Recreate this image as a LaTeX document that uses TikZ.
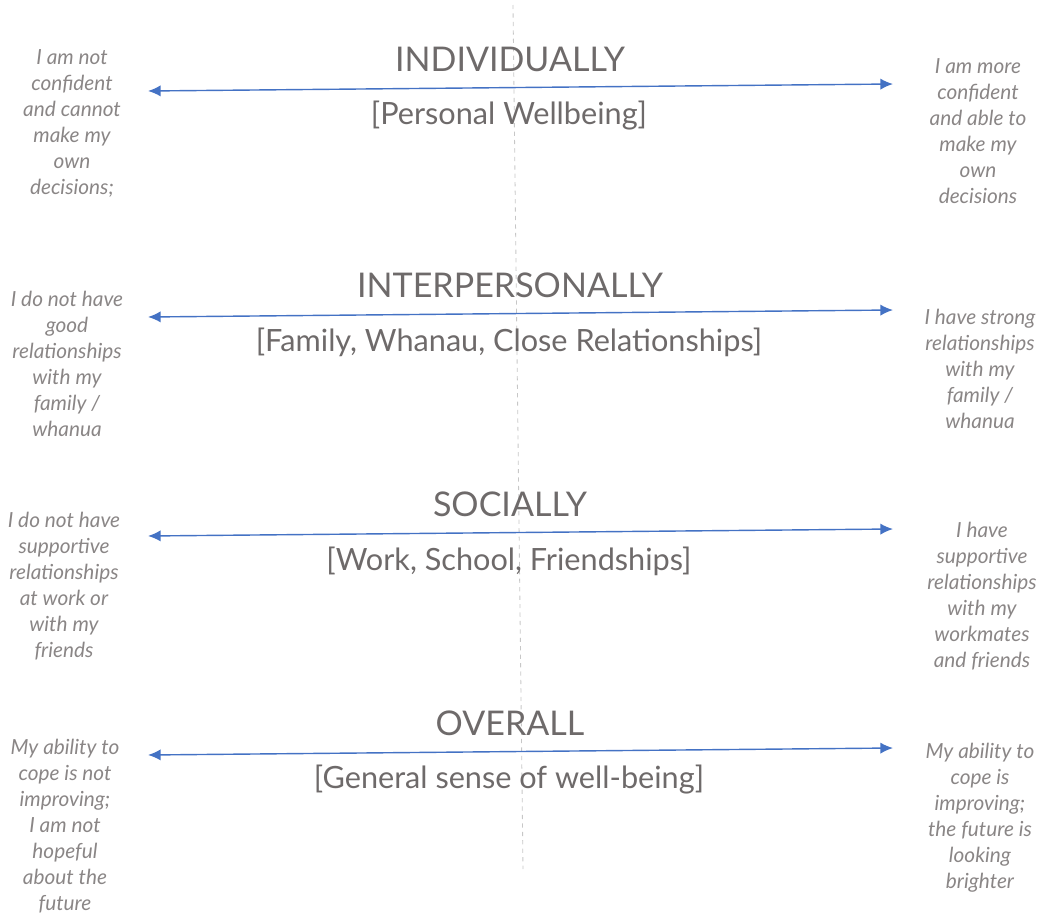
\documentclass[tikz,border=0pt]{standalone}
\usepackage{fontspec}
\setmainfont{Lato}
\usepackage{tikz}
\usetikzlibrary{arrows.meta,positioning}
\definecolor{scaleblue}{HTML}{4472C4}
\definecolor{headgrey}{HTML}{6E6A6A}
\definecolor{sidegrey}{HTML}{8A8686}
\tikzset{
  scale-head/.style={text=headgrey, font=\fontsize{24.2}{28}\selectfont, inner sep=0pt},
  scale-sub/.style={text=headgrey, font=\fontsize{21.8}{26}\selectfont, inner sep=0pt},
  scale-end/.style={text=sidegrey, font=\fontsize{14.8}{18.5}\selectfont\itshape,
    align=center, inner sep=0pt, anchor=north},
  scale-arrow/.style={{Latex[length=9pt,width=8pt]}-{Latex[length=9pt,width=8pt]},
    draw=scaleblue, line width=1pt},
  mid-line/.style={draw=black!22, dashed, line width=0.6pt}
}

\begin{document}
\begin{tikzpicture}[x=0.025cm, y=-0.025cm]
  \useasboundingbox (0,0) rectangle (1041,914);

  % centre line
  \coordinate (top) at (513,5);
  \coordinate (bottom) at (523,869);
  \draw[mid-line] (top) -- (bottom);

  % the four scales: heading, sub heading, arrow
  \foreach \name/\y/\head/\sub in {ind/0/INDIVIDUALLY/{[Personal Wellbeing]},
      inter/226/INTERPERSONALLY/{[Family, Whanau, Close Relationships]},
      soc/445/SOCIALLY/{[Work, School, Friendships]},
      all/664/OVERALL/{[General sense of well-being]}} {
    \node[scale-head] (\name-head) at (510,59+\y) {\head};
    \node[scale-sub] (\name-sub) at (509,116+\y) {\sub};
    \coordinate (\name-low) at (148,91+\y);
    \coordinate (\name-high) at (893,84+\y);
    \draw[scale-arrow] (\name-low) -- (\name-high);
  }

  % left ends
  \node[scale-end] (ind-left) at (72,49) {I am not\\confident\\and cannot\\make my\\own\\decisions;};
  \node[scale-end] (inter-left) at (67,291) {I do not have\\good\\relationships\\with my\\family /\\whanua};
  \node[scale-end] (soc-left) at (64,512) {I do not have\\supportive\\relationships\\at work or\\with my\\friends};
  \node[scale-end] (all-left) at (65,739) {My ability to\\cope is not\\improving;\\ I am not\\hopeful\\about the\\future};

  % right ends
  \node[scale-end] (ind-right) at (978,58) {I am more\\confident\\and able to\\make my\\own\\decisions};
  \node[scale-end] (inter-right) at (980,309) {I have strong\\relationships\\with my\\family /\\whanua};
  \node[scale-end] (soc-right) at (982,522) {I have\\supportive\\relationships\\with my\\workmates\\and friends};
  \node[scale-end] (all-right) at (980,743) {My ability to\\cope is\\improving;\\the future is\\looking\\brighter};
\end{tikzpicture}
\end{document}
